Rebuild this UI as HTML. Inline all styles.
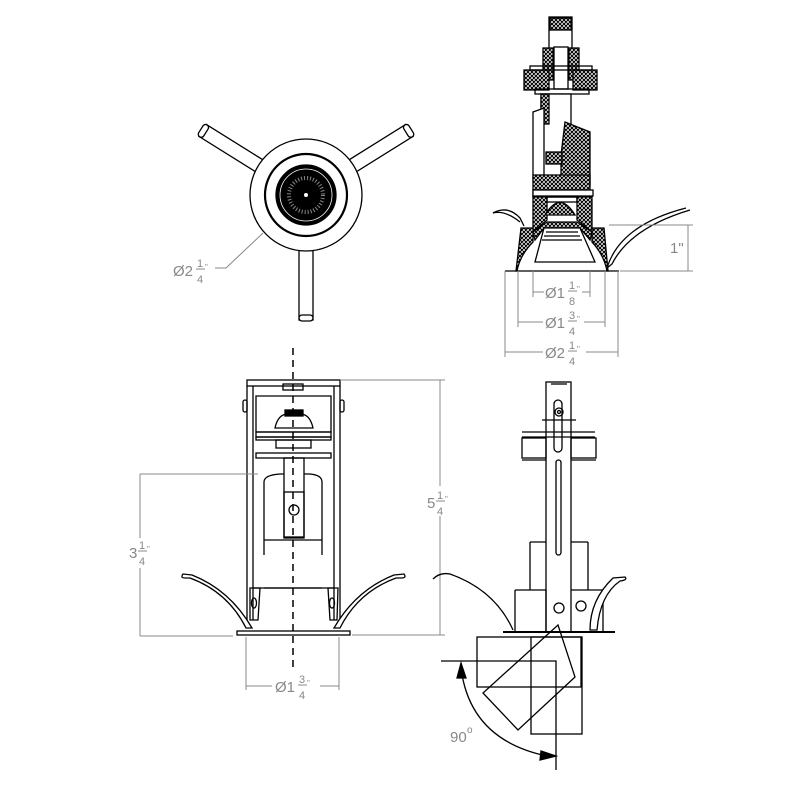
<!DOCTYPE html>
<html><head><style>html,body{margin:0;padding:0;background:#fff}svg{display:block}text{font-family:"Liberation Sans",sans-serif;fill:#888}</style></head>
<body>
<svg width="800" height="800" viewBox="0 0 800 800" xmlns="http://www.w3.org/2000/svg">
<defs>
<pattern id="h" width="4" height="4" patternUnits="userSpaceOnUse"><rect width="4" height="4" fill="#fff"/><path d="M0 4L4 0M-1 1L1-1M3 5L5 3M0 0L4 4" stroke="#000" stroke-width="1.1"/></pattern>
</defs>
<g fill="none" stroke="#000" stroke-width="1.3">
<!-- TOP VIEW -->
<g transform="translate(306,195)">
 <g fill="#fff">
 <g transform="rotate(-58)"><rect x="-7" y="-122" width="14" height="70"/><rect x="-7" y="-124" width="14" height="6" rx="3"/></g>
 <g transform="rotate(58)"><rect x="-7" y="-122" width="14" height="70"/><rect x="-7" y="-124" width="14" height="6" rx="3"/></g>
 <rect x="-7" y="50" width="14" height="75"/><rect x="-7" y="120" width="14" height="6" rx="3"/>
 <circle r="56"/>
 </g>
 <circle r="41" stroke-width="2.2"/>
 <circle r="30" fill="#000"/>
 <circle r="26" stroke="#fff" stroke-width="0.8"/>
 <circle r="17" stroke="#888" stroke-width="4" stroke-dasharray="1 2"/>
 <circle r="2" fill="#fff" stroke="none"/>
</g>
<path d="M215 268 L226 268 L263 233" stroke="#888" stroke-width="1"/>

<!-- TOP RIGHT SECTION -->
<g>
 <rect x="549" y="17" width="23" height="40" fill="#fff"/>
 <rect x="550" y="18" width="21" height="12" fill="url(#h)"/>
 <rect x="554" y="47" width="14" height="42" fill="#fff"/>
 <rect x="543" y="48" width="10" height="32" fill="url(#h)"/><rect x="569" y="48" width="10" height="32" fill="url(#h)"/>
 <rect x="524" y="70" width="25" height="20" fill="url(#h)"/><rect x="573" y="70" width="24" height="20" fill="url(#h)"/>
 <rect x="530" y="66" width="62" height="4"/>
 <rect x="535" y="89" width="54" height="5"/>
 <rect x="541" y="94" width="30" height="90" fill="#fff"/>
 <rect x="541" y="94" width="8" height="30" fill="url(#h)"/>
 <path d="M533 112 L544 108 L544 180 L533 180 Z" fill="#fff"/>
 <path d="M565 122 L590 132 L590 185 L561 185 L561 155 Z" fill="url(#h)"/>
 <rect x="546" y="152" width="16" height="12" fill="url(#h)"/>
 <rect x="533" y="175" width="57" height="22" fill="url(#h)"/>
 <rect x="533" y="190" width="60" height="6" fill="#fff"/>
 <path d="M533 197 L547 197 L547 220 L533 232 Z" fill="url(#h)"/>
 <path d="M577 197 L592 197 L592 232 L577 220 Z" fill="url(#h)"/>
 <path d="M545 215 Q560 190 575 215 Z" fill="url(#h)"/>
 <rect x="547" y="197" width="30" height="5"/>
 <path d="M533 232 L547 222 L577 222 L592 232 L590 240 L580 228 L544 228 L535 240 Z" fill="url(#h)"/>
 <path d="M544 228 L580 228 L595 262 L535 262 Z" fill="#fff"/>
 <path d="M546 232 L578 232 M544 236 L580 236 M542 240 L582 240" />
 <path d="M521 228 L533 228 L533 242 Q520 255 517 271 L516 271 Z" fill="url(#h)"/>
 <path d="M604 228 L592 228 L592 242 Q604 255 607 271 L608 271 Z" fill="url(#h)"/>
 <path d="M505 271 L619 271"/>
 <path d="M493 213 Q508 205 520 218 L524 226" />
 <path d="M493 213 Q505 210 520 222"/>
 <path d="M607 268 Q620 225 686 208 M607 268 L612 264 Q630 228 690 210"/>
</g>
<g stroke="#888" stroke-width="1">
 <path d="M609 225 L693 225 M620 271 L693 271 M688 225 L688 271"/>
 <path d="M533 271 L533 297 M590 271 L590 297 M533 292 L544 292 M582 292 L590 292"/>
 <path d="M518 271 L518 327 M605 271 L605 327 M518 322 L543 322 M584 322 L605 322"/>
 <path d="M505 271 L505 357 M618 271 L618 357 M505 352 L543 352 M586 352 L618 352"/>
</g>

<!-- BOTTOM LEFT FRONT -->
<g>
 <rect x="247" y="380" width="93" height="6"/>
 <path d="M247 386 L247 620 M253 386 L253 620 M334 386 L334 620 M340 386 L340 620"/>
 <rect x="283" y="384" width="20" height="6"/>
 <rect x="243" y="400" width="4" height="12" rx="2"/><rect x="340" y="400" width="4" height="12" rx="2"/>
 <path d="M256 396 L331 396 L331 432 L256 432 Z"/>
 <path d="M275 428 Q278 414 288 414 L300 414 Q310 414 313 428 Z" fill="#fff"/>
 <rect x="285" y="410" width="18" height="6" fill="#000"/>
 <rect x="256" y="432" width="75" height="5"/><rect x="256" y="437" width="75" height="3"/>
 <rect x="276" y="440" width="35" height="8"/>
 <rect x="256" y="453" width="75" height="5"/>
 <rect x="284" y="458" width="20" height="80"/>
 <path d="M264 555 L264 482 Q264 475 280 474 L284 474 M304 474 L310 474 Q322 475 322 482 L322 555"/>
 <rect x="284" y="492" width="20" height="45"/>
 <circle cx="294" cy="510" r="5"/>
 <path d="M264 540 L322 540 M264 588 L322 588"/>
 <path d="M253 588 L334 588"/>
 <path d="M250 588 L260 588 L258 620 L250 620 Z"/><ellipse cx="254" cy="603" rx="2.5" ry="5"/>
 <path d="M328 588 L338 588 L337 620 L330 620 Z"/><ellipse cx="332" cy="603" rx="2.5" ry="5"/>
 <path d="M252 628 Q230 590 192 575 L183 574 Q180 578 185 578 L190 578 Q228 592 246 628 Z" fill="#fff"/>
 <path d="M334 628 Q356 590 394 575 L404 574 Q407 578 401 578 L396 578 Q358 592 340 628 Z" fill="#fff"/>
 <rect x="237" y="631" width="113" height="4"/>
</g>
<path d="M293 348 L293 668" stroke-dasharray="7 5" stroke-width="1.5"/>
<g stroke="#888" stroke-width="1">
 <path d="M140 474 L258 474 M140 636 L233 636 M140 474 L140 538 M140 568 L140 636"/>
 <path d="M340 380 L445 380 M352 635 L445 635 M440 380 L440 486 M440 516 L440 635"/>
 <path d="M246 637 L246 690 M339 637 L339 690 M246 686 L272 686 M320 686 L339 686"/>
</g>

<!-- BOTTOM RIGHT SIDE -->
<g>
 <rect x="546" y="382" width="25" height="250" fill="#fff"/>
 <path d="M551 384 L567 384"/>
 <rect x="554" y="400" width="8" height="52" rx="4"/>
 <circle cx="559" cy="412" r="4"/><circle cx="559" cy="412" r="1.5"/>
 <rect x="556" y="460" width="5" height="95" rx="2.5"/>
 <path d="M542 420 L576 420 M522 432 L595 432 M522 437 L595 437"/>
 <rect x="522" y="438" width="24" height="20"/><rect x="571" y="438" width="25" height="20"/>
 <path d="M522 460 L546 460 M571 460 L596 460"/>
 <path d="M530 542 L546 542 M571 542 L588 542 M530 542 L530 590 M588 542 L588 590"/>
 <path d="M515 590 L546 590 L546 632 M515 590 L515 632"/>
 <path d="M571 590 L603 590 L603 632"/>
 <circle cx="559" cy="608" r="5"/><circle cx="581" cy="606" r="5"/>
 <path d="M590 630 Q590 600 613 578 L625 577 Q628 580 620 581 Q600 595 597 630 Z" fill="#fff"/>
 <path d="M433 579 Q440 572 450 574 Q495 590 513 630"/>
 <path d="M503 632 L615 632" stroke-width="2"/>
 <rect x="477" y="637" width="104" height="50"/>
 <rect x="531" y="637" width="51" height="97"/>
 <path d="M558 625 L575 677 L518 730 L483 693 Z"/>
 <path d="M441 661 L556 661 L556 770"/>
 <path d="M461 668 Q470 740 547 756"/>
 <path d="M457 678 L461 663 L466 678 Z" fill="#000"/>
 <path d="M541 751 L556 756 L540 760 Z" fill="#000"/>
</g>
</g>
<g font-size="15">
 <text x="173" y="276">Ø2</text><text x="197" y="267" font-size="11">1</text><text x="197" y="283" font-size="11">4</text><path d="M196 269 L205 269" stroke="#888"/><text x="205" y="270" font-size="8">"</text>
 <text x="670" y="253">1"</text>
 <text x="545" y="298">Ø1</text><text x="569" y="289" font-size="11">1</text><text x="569" y="305" font-size="11">8</text><path d="M568 291 L577 291" stroke="#888"/><text x="577" y="292" font-size="8">"</text>
 <text x="545" y="328">Ø1</text><text x="569" y="319" font-size="11">3</text><text x="569" y="335" font-size="11">4</text><path d="M568 321 L577 321" stroke="#888"/><text x="577" y="322" font-size="8">"</text>
 <text x="545" y="358">Ø2</text><text x="569" y="349" font-size="11">1</text><text x="569" y="365" font-size="11">4</text><path d="M568 351 L577 351" stroke="#888"/><text x="577" y="352" font-size="8">"</text>
 <text x="129" y="558">3</text><text x="139" y="549" font-size="11">1</text><text x="139" y="565" font-size="11">4</text><path d="M138 551 L147 551" stroke="#888"/><text x="147" y="552" font-size="8">"</text>
 <text x="427" y="508">5</text><text x="437" y="499" font-size="11">1</text><text x="437" y="515" font-size="11">4</text><path d="M436 501 L445 501" stroke="#888"/><text x="445" y="502" font-size="8">"</text>
 <text x="275" y="692">Ø1</text><text x="299" y="683" font-size="11">3</text><text x="299" y="699" font-size="11">4</text><path d="M298 685 L307 685" stroke="#888"/><text x="307" y="686" font-size="8">"</text>
 <text x="450" y="742" font-size="15">90</text><text x="467" y="733" font-size="10">o</text>
</g>
</svg>
</body></html>
